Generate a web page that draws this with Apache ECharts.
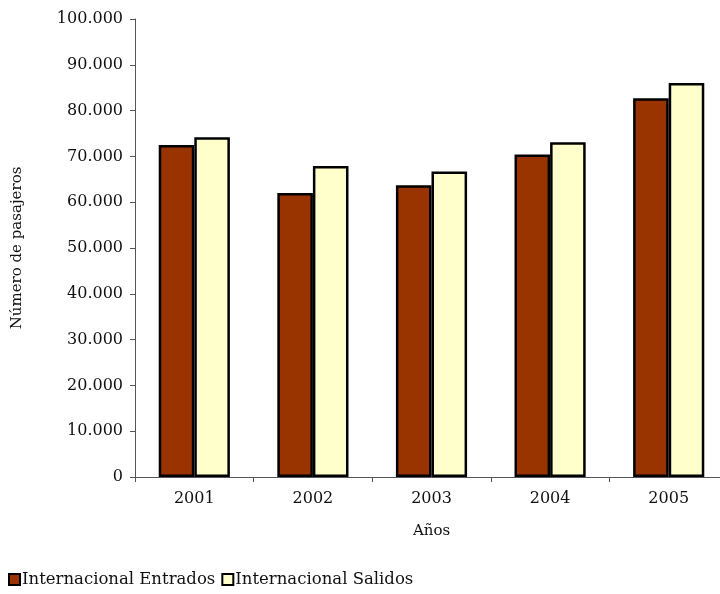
<!DOCTYPE html>
<html><head><meta charset="utf-8">
<script src="https://cdn.jsdelivr.net/npm/echarts@6/dist/echarts.min.js"></script>
<style>html,body{margin:0;padding:0;background:#fff;overflow:hidden;width:720px;height:594px}#c{width:730px;height:594px}</style>
</head><body><div id="c"></div>
<script>
const categories = ['2001','2002','2003','2004','2005'];
const entrados = [72500, 62000, 63700, 70400, 82700];
const salidos = [74200, 67900, 66700, 73100, 86000];
const seriesNames = ['Internacional Entrados','Internacional Salidos'];
const yTicks = {min: 0, max: 100000, interval: 10000};

const FONT = 'DejaVu Serif';
const chart = echarts.init(document.getElementById('c'), null, {renderer: 'canvas'});
function fmt(v){ return v === 0 ? '0' : String(v).replace(/\B(?=(\d{3})+(?!\d))/g, '.'); }
chart.setOption({
  animation: false,
  textStyle: {fontFamily: FONT, color: '#111'},
  grid: {left: 135, right: 2, top: 19, bottom: 117, containLabel: false},
  legend: {
    left: 3, top: 566, itemWidth: 11, itemHeight: 11, itemGap: 6,
    icon: 'rect',
    textStyle: {fontFamily: FONT, fontSize: 16.5, color: '#111', padding: [0,0,0,-3]},
    data: seriesNames
  },
  xAxis: {
    type: 'category', data: categories,
    name: 'Años', nameLocation: 'middle', nameGap: 47,
    nameTextStyle: {fontFamily: FONT, fontSize: 15, color: '#111'},
    axisLine: {lineStyle: {color: '#555', width: 1}},
    axisTick: {show: true, length: 5, lineStyle: {color: '#555'}},
    axisLabel: {fontFamily: FONT, fontSize: 16, color: '#111', margin: 14}
  },
  yAxis: {
    type: 'value', min: yTicks.min, max: yTicks.max, interval: yTicks.interval,
    name: 'Número de pasajeros', nameLocation: 'middle', nameGap: 110, nameRotate: 90,
    nameTextStyle: {fontFamily: FONT, fontSize: 15, color: '#111'},
    splitLine: {show: false},
    axisLine: {show: true, lineStyle: {color: '#555', width: 1}},
    axisTick: {show: true, length: 5, lineStyle: {color: '#555'}},
    axisLabel: {fontFamily: FONT, fontSize: 16, color: '#111', margin: 12, formatter: fmt}
  },
  series: [
    {name: seriesNames[0], type: 'bar', data: entrados, barGap: '0%', barCategoryGap: '40%',
     itemStyle: {color: '#993300', borderColor: '#000', borderWidth: 2.5}},
    {name: seriesNames[1], type: 'bar', data: salidos,
     itemStyle: {color: '#ffffcc', borderColor: '#000', borderWidth: 2.5}}
  ]
});
</script></body></html>
